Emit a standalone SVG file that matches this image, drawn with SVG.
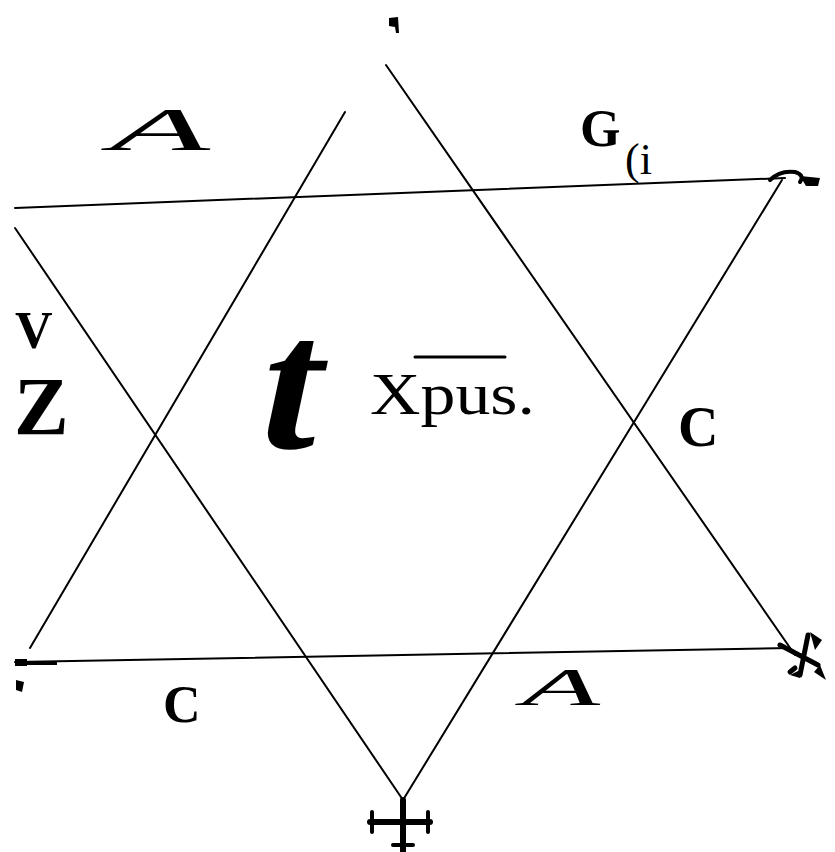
<svg xmlns="http://www.w3.org/2000/svg" width="835" height="852" viewBox="0 0 835 852">
<style>
.ln{stroke:#000;stroke-width:2;fill:none;stroke-linecap:round}
.mk{stroke:#000;fill:none;stroke-linecap:round}
.t{font-family:"Liberation Serif","DejaVu Serif",serif;fill:#000}
</style>
<rect width="835" height="852" fill="#fff"/>
<g id="lines">
<line class="ln" x1="15" y1="208" x2="785" y2="178"/>
<line class="ln" x1="15" y1="662" x2="790" y2="648"/>
<line class="ln" x1="386" y1="65" x2="795" y2="655"/>
<line class="ln" x1="345" y1="112" x2="30" y2="648"/>
<line class="ln" x1="15" y1="228" x2="403" y2="800"/>
<line class="ln" x1="782" y1="180" x2="403" y2="800"/>
</g>
<g id="marks">
<path d="M389 18 L398 17 L399 33 L396 33 L395 27 L389 26 Z" fill="#000"/>
<path class="mk" stroke-width="4" d="M770 180 Q780 170 795 172 Q805 175 800 182"/>
<path d="M800 176 L820 178 L818 186 L806 186 Z" fill="#000"/>
<path class="mk" stroke-width="5" d="M780 645 L818 665 M808 635 L800 675 M795 668 L790 672"/>
<path d="M810 632 L822 640 L815 650 Z M820 665 L826 680 L814 672 Z M800 670 L790 675 L800 678 Z" fill="#000"/>
<path d="M16 680 L24 682 L22 692 L16 690 Z" fill="#000"/>
<rect x="15" y="659" width="12" height="7" fill="#000"/>
<rect x="27" y="661" width="30" height="4" fill="#000"/>
</g>
<g id="cross-bottom">
<line class="mk" stroke-width="6" x1="403" y1="800" x2="403" y2="852"/>
<line class="mk" stroke-width="6" x1="370" y1="822" x2="430" y2="822"/>
<line class="mk" stroke-width="4" x1="372" y1="812" x2="372" y2="832"/>
<line class="mk" stroke-width="4" x1="428" y1="812" x2="428" y2="832"/>
<line class="mk" stroke-width="4" x1="393" y1="845" x2="413" y2="845"/>
</g>
<g id="labels">
<text class="t" x="110" y="150" font-size="62" font-style="italic" textLength="100" lengthAdjust="spacingAndGlyphs">A</text>
<text class="t" x="580" y="146" font-size="52" font-weight="bold">G</text>
<text class="t" x="625" y="174" font-size="44">(i</text>
<text class="t" x="15" y="348" font-size="52" font-weight="bold">V</text>
<text class="t" x="14" y="434" font-size="82" font-weight="bold">Z</text>
<text class="t" x="250" y="448" font-size="190" font-weight="bold" transform="skewX(-12) translate(95 0)">t</text>
<text class="t" x="370" y="414" font-size="60" textLength="165" lengthAdjust="spacingAndGlyphs">Xpus.</text>
<line class="mk" stroke-width="3" x1="415" y1="357" x2="505" y2="357"/>
<text class="t" x="678" y="446" font-size="56" font-weight="bold">C</text>
<text class="t" x="163" y="722" font-size="52" font-weight="bold">C</text>
<text class="t" x="522" y="705" font-size="52" font-style="italic" textLength="78" lengthAdjust="spacingAndGlyphs">A</text>
</g>
</svg>
